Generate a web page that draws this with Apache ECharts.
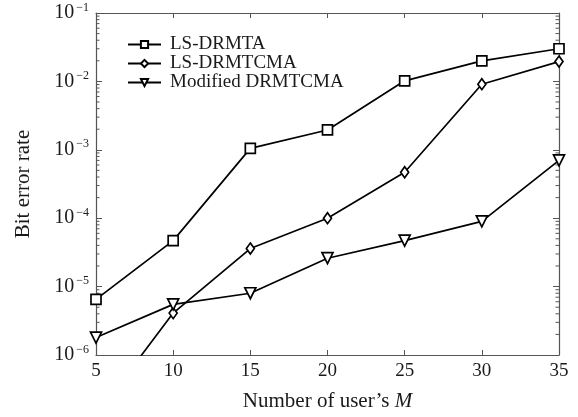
<!DOCTYPE html>
<html>
<head>
<meta charset="utf-8">
<script src="https://cdn.jsdelivr.net/npm/echarts@6/dist/echarts.min.js"></script>
<style>html,body{margin:0;padding:0;background:#fff;}#c{width:578px;height:417px;}</style>
</head>
<body>
<div id="c"></div>
<script>
const xValues = [5, 10, 15, 20, 25, 30, 35];
const lsDrmta = [6.5e-6, 4.7e-5, 1.05e-3, 1.95e-3, 1.02e-2, 2.0e-2, 3.0e-2];
const lsDrmtcma = [1.3e-7, 4.1e-6, 3.6e-5, 1.0e-4, 4.7e-4, 9.1e-3, 1.95e-2];
const modDrmtcma = [1.8e-6, 5.5e-6, 8.0e-6, 2.6e-5, 4.7e-5, 9.0e-5, 7.0e-4];
const seriesNames = ['LS-DRMTA', 'LS-DRMTCMA', 'Modified DRMTCMA'];
const xMin = 5, xMax = 35, xStep = 5;
const yMin = 1e-6, yMax = 1e-1;

const FONT = '"Liberation Serif", "Times New Roman", serif';
const AX = '#555';
const TXT = '#1a1a1a';

const minorVals = [];
for (let n = -6; n <= -2; n++) {
  for (let k = 2; k <= 9; k++) minorVals.push([xMin, k * Math.pow(10, n)]);
}

function pairs(arr) { return xValues.map((x, i) => [x, arr[i]]); }

const chart = echarts.init(document.getElementById('c'), null, {renderer: 'canvas'});
const lineCommon = {
  type: 'line',
  clip: true,
  lineStyle: {color: '#000', width: 1.7},
  itemStyle: {color: '#fff', borderColor: '#000', borderWidth: 1.7},
  emphasis: {disabled: true},
  z: 3
};
chart.setOption({
  animation: false,
  backgroundColor: '#fff',
  grid: {left: 96, right: 19, top: 13, bottom: 58, containLabel: false},
  legend: {
    orient: 'vertical', left: 127, top: 35, padding: 0,
    itemWidth: 33, itemHeight: 9, itemGap: 0,
    data: seriesNames,
    textStyle: {fontFamily: FONT, fontSize: 19, lineHeight: 15, color: TXT, padding: [0, 0, 0, 4]}
  },
  xAxis: [{
    type: 'value', min: xMin, max: xMax, interval: xStep,
    axisLine: {show: true, lineStyle: {color: AX, width: 1.2}},
    axisTick: {show: true, inside: true, length: 5, lineStyle: {color: AX}},
    axisLabel: {fontFamily: FONT, fontSize: 19, color: TXT, margin: 7},
    splitLine: {show: false},
    name: "{n|Number of user\u2019s }{i|M}",
    nameLocation: 'middle', nameGap: 36,
    nameTextStyle: {fontFamily: FONT, fontSize: 21, color: TXT,
      rich: {n: {fontFamily: FONT, fontSize: 21, color: TXT}, i: {fontFamily: FONT, fontSize: 21, fontStyle: 'italic', color: TXT}}}
  }, {
    type: 'value', min: xMin, max: xMax, interval: xStep, position: 'top',
    axisLine: {show: true, lineStyle: {color: AX, width: 1.2}},
    axisTick: {show: true, inside: true, length: 5, lineStyle: {color: AX}},
    axisLabel: {show: false}, splitLine: {show: false}
  }],
  yAxis: [{
    type: 'log', logBase: 10, min: yMin, max: yMax,
    axisLine: {show: true, lineStyle: {color: AX, width: 1.2}},
    axisTick: {show: true, inside: true, length: 6, lineStyle: {color: AX}},
    splitLine: {show: false},
    axisLabel: {
      margin: 7,
      formatter: function (v) {
        const e = Math.round(Math.log10(v));
        return '{b|10}{s|\u2212' + Math.abs(e) + '}';
      },
      rich: {
        b: {fontFamily: FONT, fontSize: 20, color: TXT, lineHeight: 22},
        s: {fontFamily: FONT, fontSize: 12, color: TXT, lineHeight: 22, padding: [0, 0, 11, 2]}
      }
    },
    name: 'Bit error rate', nameLocation: 'middle', nameGap: 62, nameRotate: 90,
    nameTextStyle: {fontFamily: FONT, fontSize: 21, color: TXT}
  }, {
    type: 'log', logBase: 10, min: yMin, max: yMax, position: 'right',
    axisLine: {show: true, lineStyle: {color: AX, width: 1.2}},
    axisTick: {show: true, inside: true, length: 6, lineStyle: {color: AX}},
    axisLabel: {show: false}, splitLine: {show: false}
  }],
  series: [
    Object.assign({}, lineCommon, {name: seriesNames[0], data: pairs(lsDrmta), symbol: 'rect', symbolSize: 10}),
    Object.assign({}, lineCommon, {name: seriesNames[1], data: pairs(lsDrmtcma), symbol: 'diamond', symbolSize: [8, 11]}),
    Object.assign({}, lineCommon, {name: seriesNames[2], data: pairs(modDrmtcma), symbol: 'triangle', symbolRotate: 180, symbolSize: 11}),
    {
      type: 'custom', silent: true, clip: false, z: 2,
      data: minorVals,
      renderItem: function (params, api) {
        const p0 = api.coord([xMin, api.value(1)]);
        const p1 = api.coord([xMax, api.value(1)]);
        return {
          type: 'group',
          children: [
            {type: 'line', shape: {x1: p0[0], y1: p0[1], x2: p0[0] + 3.5, y2: p0[1]}, style: {stroke: AX, lineWidth: 1}},
            {type: 'line', shape: {x1: p1[0] - 3.5, y1: p1[1], x2: p1[0], y2: p1[1]}, style: {stroke: AX, lineWidth: 1}}
          ]
        };
      }
    }
  ]
});
</script>
</body>
</html>
